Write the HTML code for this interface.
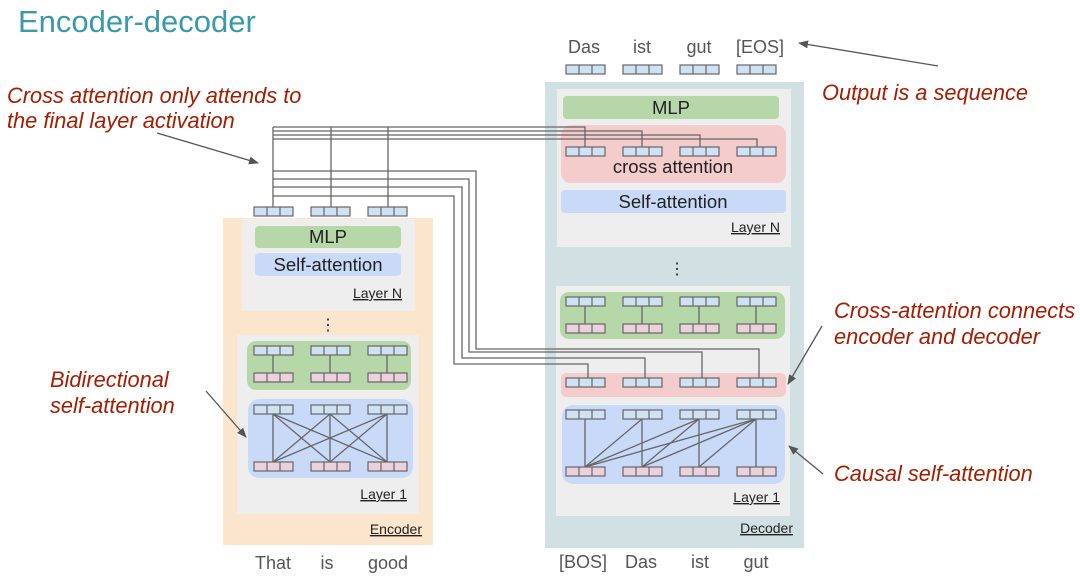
<!DOCTYPE html>
<html><head><meta charset="utf-8"><style>
html,body{margin:0;padding:0;background:#fff;}
svg{display:block;font-family:"Liberation Sans",sans-serif;}
.r{fill:#a61c00;font-style:italic;font-size:21.8px;}
.k{fill:#222;font-size:18.5px;}
.w{fill:#555;font-size:18px;}
.u{fill:#222;font-size:14px;text-decoration:underline;}
</style></head><body>
<svg id="s" width="1080" height="576" viewBox="0 0 1080 576" xmlns="http://www.w3.org/2000/svg">
<defs><marker id="a" markerWidth="10" markerHeight="8" refX="9" refY="4" orient="auto" markerUnits="userSpaceOnUse"><path d="M0,0L10,4L0,8z" fill="#555"/></marker></defs>
<text x="18" y="32" fill="#3a9ba8" font-size="31">Encoder-decoder</text>
<!-- encoder -->
<rect x="223" y="218" width="210" height="327" fill="#fce5cd"/>
<rect x="242" y="219" width="173" height="92" fill="#eeeeee"/>
<rect x="255" y="226" width="146" height="22" rx="4" fill="#b6d7a8"/>
<rect x="255" y="253" width="146" height="23" rx="4" fill="#c9daf8"/>
<text x="328" y="243" class="k" text-anchor="middle">MLP</text>
<text x="328" y="271" class="k" text-anchor="middle">Self-attention</text>
<text x="402" y="298" class="u" text-anchor="end">Layer N</text>
<text x="328" y="330" font-size="16" text-anchor="middle" fill="#222">⋮</text>
<rect x="237" y="335" width="182" height="179" fill="#eeeeee"/>
<rect x="247" y="341" width="164" height="49" rx="9" fill="#b6d7a8"/>
<rect x="248" y="399" width="165" height="79" rx="11" fill="#c9daf8"/>
<text x="407" y="499" class="u" text-anchor="end">Layer 1</text>
<text x="422" y="534" class="u" text-anchor="end">Encoder</text>
<text x="273" y="569" class="w" text-anchor="middle">That</text>
<text x="327" y="569" class="w" text-anchor="middle">is</text>
<text x="388" y="569" class="w" text-anchor="middle">good</text>
<!-- decoder -->
<rect x="545" y="82" width="259" height="466" fill="#d0e0e3"/>
<rect x="557" y="89" width="234" height="158" fill="#eeeeee"/>
<rect x="563" y="96" width="216" height="23" rx="4" fill="#b6d7a8"/>
<rect x="561" y="125" width="225" height="58" rx="10" fill="#f4cccc"/>
<rect x="561" y="190" width="225" height="23" rx="4" fill="#c9daf8"/>
<text x="671" y="114" class="k" text-anchor="middle">MLP</text>
<text x="673" y="173" class="k" text-anchor="middle">cross attention</text>
<text x="673" y="208" class="k" text-anchor="middle">Self-attention</text>
<text x="780" y="232" class="u" text-anchor="end">Layer N</text>
<text x="677" y="274" font-size="16" text-anchor="middle" fill="#222">⋮</text>
<rect x="556" y="286" width="234" height="230" fill="#eeeeee"/>
<rect x="560" y="292" width="225" height="47" rx="9" fill="#b6d7a8"/>
<rect x="561" y="373" width="225" height="24" rx="5" fill="#f4cccc"/>
<rect x="562" y="405" width="223" height="79" rx="11" fill="#c9daf8"/>
<text x="780" y="502" class="u" text-anchor="end">Layer 1</text>
<text x="793" y="533" class="u" text-anchor="end">Decoder</text>
<text x="583" y="568" class="w" text-anchor="middle">[BOS]</text>
<text x="641" y="568" class="w" text-anchor="middle">Das</text>
<text x="700" y="568" class="w" text-anchor="middle">ist</text>
<text x="756" y="568" class="w" text-anchor="middle">gut</text>
<text x="584" y="53" class="w" text-anchor="middle">Das</text>
<text x="642" y="53" class="w" text-anchor="middle">ist</text>
<text x="699" y="53" class="w" text-anchor="middle">gut</text>
<text x="760" y="53" class="w" text-anchor="middle">[EOS]</text>
<g id="g" stroke="#666" stroke-width="1.3" fill="none"></g>
<g id="v"></g>
<!-- annotations -->
<text x="7" y="103" class="r">Cross attention only attends to</text>
<text x="7" y="128" class="r">the final layer activation</text>
<line x1="157" y1="133" x2="258" y2="163" stroke="#555" stroke-width="1.3" marker-end="url(#a)"/>
<text x="822" y="100" class="r">Output is a sequence</text>
<line x1="938" y1="66" x2="799" y2="43" stroke="#555" stroke-width="1.3" marker-end="url(#a)"/>
<text x="834" y="318" class="r">Cross-attention connects</text>
<text x="834" y="344" class="r">encoder and decoder</text>
<line x1="822" y1="326" x2="788" y2="384" stroke="#555" stroke-width="1.3" marker-end="url(#a)"/>
<text x="50" y="387" class="r">Bidirectional</text>
<text x="50" y="413" class="r">self-attention</text>
<line x1="206" y1="391" x2="246" y2="437" stroke="#555" stroke-width="1.3" marker-end="url(#a)"/>
<text x="834" y="481" class="r">Causal self-attention</text>
<line x1="823" y1="474" x2="789" y2="446" stroke="#555" stroke-width="1.3" marker-end="url(#a)"/>
</svg>
<script>
var NS="http://www.w3.org/2000/svg",g=document.getElementById('g'),v=document.getElementById('v');
function el(p,t,a){var e=document.createElementNS(NS,t);for(var k in a)e.setAttribute(k,a[k]);p.appendChild(e);return e;}
function vec(x,y,c){var w=39,h=9;el(v,'rect',{x:x,y:y,width:w,height:h,fill:c,stroke:'#666','stroke-width':1.2});
el(v,'line',{x1:x+13,y1:y,x2:x+13,y2:y+h,stroke:'#666','stroke-width':1.2});el(v,'line',{x1:x+26,y1:y,x2:x+26,y2:y+h,stroke:'#666','stroke-width':1.2});}
function ln(pts){el(g,'polyline',{points:pts});}
var B='#cfe2f3',P='#ead1dc';
var ex=[254,311,368],dx=[566,623,680,737];
[273,331,388].forEach(function(x){ln(x+','+127+' '+x+','+207);});
var ty=[127,131,135,139],tx=[585,642,700,757];
for(var i=0;i<4;i++)ln('273,'+ty[i]+' '+tx[i]+','+ty[i]+' '+tx[i]+',147');
var ly=[171,179,187,196],lv=[476,469,462,454],lh=[349,352,358,364],lt=[759,702,645,588];
for(i=0;i<4;i++)ln('273,'+ly[i]+' '+lv[i]+','+ly[i]+' '+lv[i]+','+lh[i]+' '+lt[i]+','+lh[i]+' '+lt[i]+',378');
ex.forEach(function(x){vec(x,207,B);vec(x,346,B);vec(x,373,P);vec(x,405,B);vec(x,462,P);ln((x+19)+',355 '+(x+19)+',373');});
ex.forEach(function(a){ex.forEach(function(b){ln((a+19)+',414 '+(b+19)+',462');});});
dx.forEach(function(x){vec(x,65,B);vec(x,147,B);vec(x,297,B);vec(x,324,P);vec(x,378,B);vec(x,410,B);vec(x,467,P);ln((x+19)+',306 '+(x+19)+',324');});
for(var j=0;j<4;j++)for(i=0;i<=j;i++)ln((dx[j]+19)+',419 '+(dx[i]+19)+',467');
</script>
</body></html>
